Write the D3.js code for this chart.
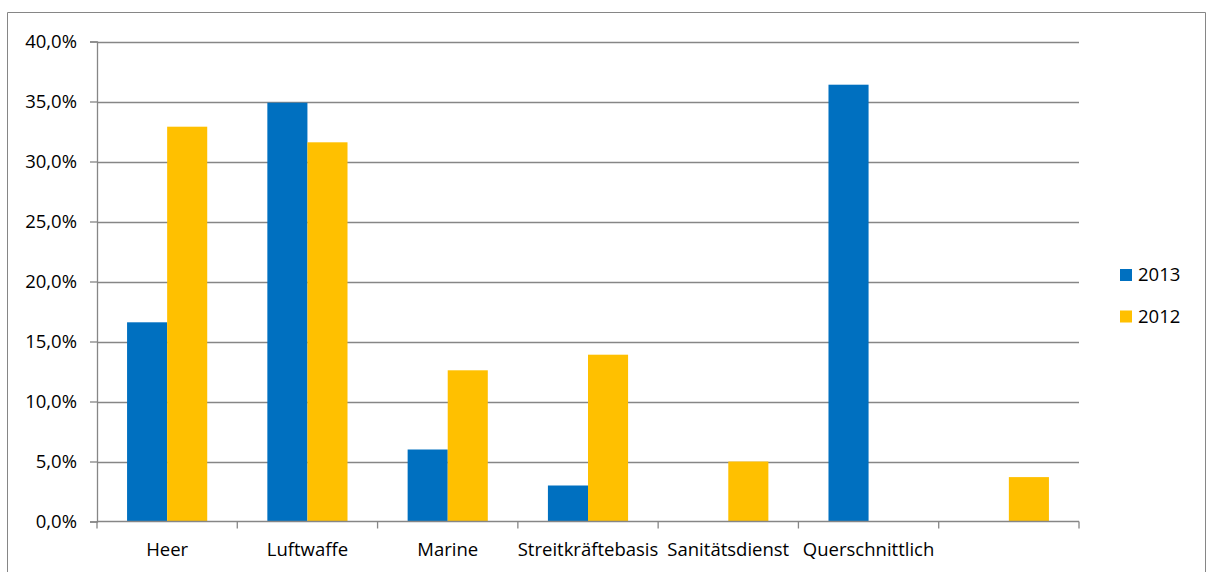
<!DOCTYPE html>
<html>
<head>
<meta charset="utf-8">
<script src="https://cdn.jsdelivr.net/npm/d3@7"></script>
<style>
  html, body { margin: 0; padding: 0; background: #fff; }
  svg { display: block; }
  text { font-family: "Open Sans", sans-serif; fill: #000; }
</style>
</head>
<body>
<svg id="chart" width="1206" height="572"></svg>
<script>
const categories = ["Heer", "Luftwaffe", "Marine", "Streitkräftebasis", "Sanitätsdienst", "Querschnittlich", ""];
const seriesNames = ["2013", "2012"];
const values2013 = [16.6, 34.9, 6.0, 3.0, null, 36.4, null];
const values2012 = [32.9, 31.6, 12.6, 13.9, 5.0, null, 3.7];
const yTicks = [0, 5, 10, 15, 20, 25, 30, 35, 40];
const colors = ["#0070C0", "#FFC000"];

const FONT = "18.5px";
const svg = d3.select("#chart");
const plot = { left: 97, right: 1079, top: 41.5, bottom: 521.5 };

// outer frame
svg.append("path")
  .attr("d", "M7.5,572 L7.5,12.5 L1205.5,12.5 L1205.5,572")
  .attr("fill", "none").attr("stroke", "#868686").attr("stroke-width", 1);

const x0 = d3.scaleBand().domain(categories.map((c, i) => i)).range([plot.left, plot.right]).padding(0);
const x1 = d3.scaleBand().domain(seriesNames).range([0, x0.bandwidth()]).paddingInner(0).paddingOuter(0.75);
const y = d3.scaleLinear().domain([0, 40]).range([plot.bottom, plot.top]);

// horizontal gridlines
svg.append("g").selectAll("line").data(yTicks.filter(t => t > 0)).join("line")
  .attr("x1", plot.left).attr("x2", plot.right)
  .attr("y1", d => Math.round(y(d)) + 0.5).attr("y2", d => Math.round(y(d)) + 0.5)
  .attr("stroke", "#868686").attr("stroke-width", 1.3);

// bars
const data = [values2013, values2012];
seriesNames.forEach((s, si) => {
  svg.append("g").selectAll("rect")
    .data(data[si].map((v, i) => ({ v, i })).filter(d => d.v != null))
    .join("rect")
    .attr("x", d => x0(d.i) + x1(s))
    .attr("width", x1.bandwidth())
    .attr("y", d => y(d.v))
    .attr("height", d => y(0) - y(d.v))
    .attr("fill", colors[si]);
});

// y axis
const yAxis = d3.axisLeft(y).tickValues(yTicks).tickSize(7).tickPadding(13)
  .tickFormat(d => d3.format(".1f")(d).replace(".", ",") + "%");
const gy = svg.append("g").attr("transform", `translate(${plot.left},0)`).call(yAxis);
gy.select(".domain").attr("stroke", "#868686").attr("stroke-width", 1.3);
gy.selectAll(".tick line").attr("stroke", "#868686").attr("stroke-width", 1.3);
gy.selectAll(".tick text").style("font-size", FONT).style("font-family", "'Open Sans', sans-serif").attr("fill", "#000");

// x axis with ticks at category boundaries
const boundaries = d3.range(categories.length + 1).map(i => plot.left + i * x0.step());
const gx = svg.append("g");
gx.append("line").attr("x1", plot.left).attr("x2", plot.right)
  .attr("y1", plot.bottom).attr("y2", plot.bottom)
  .attr("stroke", "#868686").attr("stroke-width", 1.3);
gx.selectAll("line.tk").data(boundaries).join("line").attr("class", "tk")
  .attr("x1", d => d).attr("x2", d => d)
  .attr("y1", plot.bottom).attr("y2", plot.bottom + 7)
  .attr("stroke", "#868686").attr("stroke-width", 1.3);
gx.selectAll("text").data(categories).join("text")
  .attr("x", (d, i) => x0(i) + x0.bandwidth() / 2)
  .attr("y", 556)
  .attr("text-anchor", "middle")
  .style("font-size", FONT)
  .text(d => d);

// legend
const legend = svg.append("g");
seriesNames.forEach((s, i) => {
  const base = 281 + i * 41.5;
  legend.append("rect").attr("x", 1120).attr("y", base - 12).attr("width", 12).attr("height", 12).attr("fill", colors[i]);
  legend.append("text").attr("x", 1138).attr("y", base).style("font-size", FONT).text(s);
});
</script>
</body>
</html>
